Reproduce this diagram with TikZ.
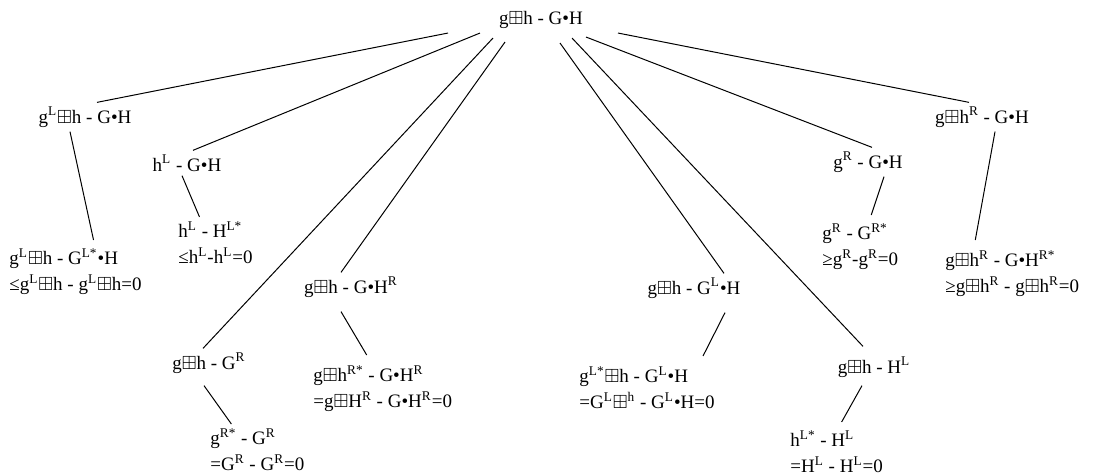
\documentclass[tikz,border=0pt]{standalone}
\usepackage{amssymb}
\usepackage{fontspec}
\setmainfont{Liberation Serif}
\usepackage{tikz}

\newcommand\up[1]{\textsuperscript{#1}}
\newcommand\bp{\ensuremath{\boxplus}}

\begin{document}
\begin{tikzpicture}[
    x=0.5pt, y=-0.5pt,
    term/.style={inner sep=2pt, font=\fontsize{9.5}{13}\selectfont},
    leaf/.style={term, align=left, anchor=north west},
    branch/.style={line width=0.5pt}
]
\useasboundingbox (0,0) rectangle (1117,474);

\node[term] (root) at (541,20) {g\bp h - G•H};

\node[term] (gl) at (85,117) {g\up{L}\bp h - G•H};
\node[term] (hl) at (187,163) {h\up{L} - G•H};
\node[term] (gr1) at (209,363) {g\bp h - G\up{R}};
\node[term] (hr1) at (351,287) {g\bp h - G•H\up{R}};
\node[term] (gl1) at (694,288) {g\bp h - G\up{L}•H};
\node[term] (hl1) at (874,367) {g\bp h - H\up{L}};
\node[term] (gr) at (868,162) {g\up{R} - G•H};
\node[term] (hr) at (982,117) {g\bp h\up{R} - G•H};

\node[leaf] (glx) at (5,244) {g\up{L}\bp h - G\up{L*}•H\\≤g\up{L}\bp h - g\up{L}\bp h=0};
\node[leaf] (hlx) at (174,217) {h\up{L} - H\up{L*}\\≤h\up{L}-h\up{L}=0};
\node[leaf] (gr1x) at (206,424) {g\up{R*} - G\up{R}\\=G\up{R} - G\up{R}=0};
\node[leaf] (hr1x) at (309,361) {g\bp h\up{R*} - G•H\up{R}\\=g\bp H\up{R} - G•H\up{R}=0};
\node[leaf] (gl1x) at (575,362) {g\up{L*}\bp h - G\up{L}•H\\=G\up{L}\bp\up{h} - G\up{L}•H=0};
\node[leaf] (hl1x) at (786,426) {h\up{L*} - H\up{L}\\=H\up{L} - H\up{L}=0};
\node[leaf] (grx) at (818,219) {g\up{R} - G\up{R*}\\≥g\up{R}-g\up{R}=0};
\node[leaf] (hrx) at (941,246) {g\bp h\up{R} - G•H\up{R*}\\≥g\bp h\up{R} - g\bp h\up{R}=0};

\draw[branch] ([xshift=-46.5pt]root.south) -- ([xshift=6pt]gl.north);
\draw[branch] ([xshift=-30.5pt]root.south) -- ([xshift=3pt]hl.north);
\draw[branch] ([xshift=-24pt,yshift=-2.5pt]root.south) -- ([xshift=-3pt]gr1.north);
\draw[branch] ([xshift=-18pt,yshift=-4.5pt]root.south) -- ([xshift=-5pt]hr1.north);
\draw[branch] ([xshift=9.5pt,yshift=-5pt]root.south) -- ([xshift=15pt]gl1.north);
\draw[branch] ([xshift=15.5pt,yshift=-2.5pt]root.south) -- ([xshift=-5.5pt,yshift=3pt]hl1.north);
\draw[branch] ([xshift=22.5pt,yshift=-2pt]root.south) -- ([xshift=2pt]gr.north);
\draw[branch] ([xshift=38.5pt]root.south) -- ([xshift=-6.5pt]hr.north);

\draw[branch] ([xshift=-7.5pt]gl.south) -- ([xshift=9pt,yshift=2pt]glx.north);
\draw[branch] ([xshift=-2.5pt]hl.south) -- ([xshift=-8pt]hlx.north);
\draw[branch] ([xshift=-2.5pt,yshift=-4pt]gr1.south) -- ([xshift=-13pt]gr1x.north);
\draw[branch] ([xshift=-5pt,yshift=-5pt]hr1.south) -- ([xshift=-8pt,yshift=3pt]hr1x.north);
\draw[branch] ([xshift=15.5pt,yshift=-5pt]gl1.south) -- ([xshift=28pt,yshift=3pt]gl1x.north);
\draw[branch] ([xshift=-6pt,yshift=-2pt]hl1.south) -- ([xshift=2.5pt,yshift=2pt]hl1x.north);
\draw[branch] ([xshift=8pt]gr.south) -- ([xshift=5.5pt,yshift=2pt]grx.north);
\draw[branch] ([xshift=6.5pt]hr.south) -- ([xshift=-18.5pt,yshift=3pt]hrx.north);

\end{tikzpicture}
\end{document}
